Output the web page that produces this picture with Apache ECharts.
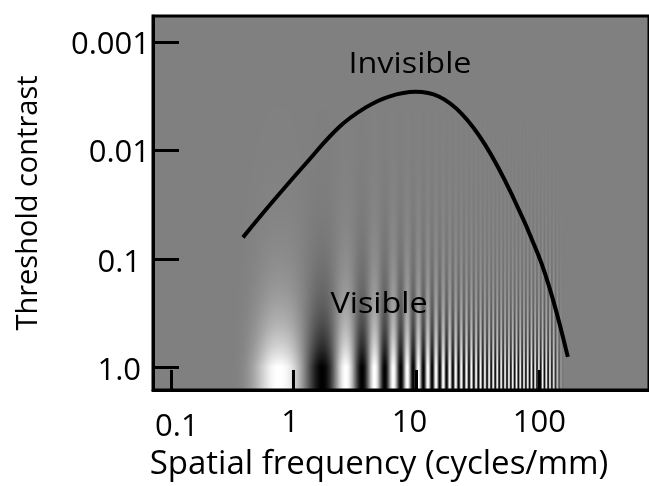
<!DOCTYPE html>
<html><head><meta charset="utf-8">
<script src="https://cdn.jsdelivr.net/npm/echarts@6/dist/echarts.min.js"></script>
<style>html,body{margin:0;padding:0;background:#fff}#c{width:649px;height:486px}</style>
</head><body><div id="c"></div>
<script>
// ---- data ----
const curveFreq = [0.386, 0.672, 1.26, 2.347, 3.864, 5.97, 9.83, 15.18, 23.33, 36.31, 59.67, 98.2, 127.6, 170.3];
const curveContrast = [0.0634, 0.02969, 0.01305, 0.006028, 0.003972, 0.00315, 0.002847, 0.00315, 0.004556, 0.00888, 0.02544, 0.0926, 0.2289, 0.81];
const xTickValues = [0.1, 1, 10, 100];
const xTickLabels = ['0.1', '1', '10', '100'];
const yTickValues = [0.001, 0.01, 0.1, 1];
const yTickLabels = ['0.001', '0.01', '0.1', '1.0'];
const xRange = [0.0715, 780];
const yRange = [0.000566, 1.64];
const annotationTexts = ['Invisible', 'Visible'];
const annotationFreq = [8.84, 4.95];
const annotationContrast = [0.00159, 0.2626];
// grating (Campbell-Robson stimulus) parameters
const gratingFirstBrightFreq = 0.76;
const gratingCyclesPerPxPerUnit = 1 / 101;
const gratingMaxCyclesPerPx = 0.27;
const gratingLeftFade = [0.3, 0.72];
const gratingRightFade = [120, 165];

const FONT = '"Open Sans", "Noto Sans", sans-serif';
const chart = echarts.init(document.getElementById('c'), null, {renderer: 'canvas'});

function idxOf(arr, v) {
  let best = 0, d = Infinity;
  arr.forEach((t, i) => { const e = Math.abs(Math.log10(t) - Math.log10(v)); if (e < d) { d = e; best = i; } });
  return best;
}
const xRich = ['a', 'b', 'c', 'd'];
const yRich = ['p', 'p', 'q', 'q'];
const LBL = 31;

chart.setOption({
  animation: false,
  grid: {left: 153, top: 16, width: 498, height: 379, show: true, borderColor: '#000', borderWidth: 3, backgroundColor: 'transparent'},
  xAxis: {
    type: 'log', logBase: 10, min: xRange[0], max: xRange[1],
    name: 'Spatial frequency (cycles/mm)', nameLocation: 'middle', nameGap: 58,
    nameTextStyle: {fontFamily: FONT, fontSize: 33, color: '#000', padding: [0, 44, 0, 0]},
    axisLine: {show: true, lineStyle: {color: '#000', width: 3}},
    axisTick: {show: true, inside: true, length: 20, lineStyle: {color: '#000', width: 3}, customValues: xTickValues},
    minorTick: {show: false}, splitLine: {show: false},
    axisLabel: {
      customValues: xTickValues, margin: 18,
      formatter: v => { const i = idxOf(xTickValues, v); return '{' + xRich[i] + '|' + xTickLabels[i] + '}'; },
      rich: {
        a: {fontFamily: FONT, fontSize: LBL, color: '#000', padding: [4, 0, 0, 12]},
        b: {fontFamily: FONT, fontSize: LBL, color: '#000', padding: [0, 7, 0, 0]},
        c: {fontFamily: FONT, fontSize: LBL, color: '#000', padding: [0, 14, 0, 0]},
        d: {fontFamily: FONT, fontSize: LBL, color: '#000', padding: [0, 0, 0, 0]}
      }
    }
  },
  yAxis: {
    type: 'log', logBase: 10, inverse: true, min: yRange[0], max: yRange[1],
    name: 'Threshold contrast', nameLocation: 'middle', nameGap: 110,
    nameTextStyle: {fontFamily: FONT, fontSize: 29, color: '#000'},
    axisLine: {show: true, lineStyle: {color: '#000', width: 3}},
    axisTick: {show: true, inside: true, length: 26, lineStyle: {color: '#000', width: 3}, customValues: yTickValues},
    minorTick: {show: false}, splitLine: {show: false},
    axisLabel: {
      customValues: yTickValues, margin: 3,
      formatter: v => { const i = idxOf(yTickValues, v); return '{' + yRich[i] + '|' + yTickLabels[i] + '}'; },
      rich: {
        p: {fontFamily: FONT, fontSize: LBL, color: '#000', padding: [4, 0, 0, 0]},
        q: {fontFamily: FONT, fontSize: LBL, color: '#000', padding: [8, 9, 0, 0]}
      }
    }
  },
  series: [{
    type: 'line', z: 5, showSymbol: false, smooth: 0.4,
    data: curveFreq.map((f, i) => [f, curveContrast[i]]),
    lineStyle: {color: '#000', width: 4}
  }]
});

function smoothstep(v, a, b) { const t = Math.min(1, Math.max(0, (v - a) / (b - a))); return t * t * (3 - 2 * t); }

function buildGrating() {
  const x0 = chart.convertToPixel({xAxisIndex: 0}, xRange[0]);
  const x1 = chart.convertToPixel({xAxisIndex: 0}, xRange[1]);
  const yTop = chart.convertToPixel({yAxisIndex: 0}, yRange[0]);
  const yBot = chart.convertToPixel({yAxisIndex: 0}, yRange[1]);
  const W = Math.round(x1 - x0), H = Math.round(yBot - yTop);
  const cv = document.createElement('canvas'); cv.width = W; cv.height = H;
  const ctx = cv.getContext('2d');
  const img = ctx.createImageData(W, H);
  const SS = 4, N = W * SS;
  const phase = new Float64Array(N), env = new Float64Array(N);
  let acc = 0, refIdx = 0, best = Infinity;
  const lf0 = Math.log10(gratingLeftFade[0]), lf1 = Math.log10(gratingLeftFade[1]);
  const rf0 = Math.log10(gratingRightFade[0]), rf1 = Math.log10(gratingRightFade[1]);
  for (let i = 0; i < N; i++) {
    const f = chart.convertFromPixel({xAxisIndex: 0}, x0 + (i + 0.5) / SS);
    const g = gratingMaxCyclesPerPx * Math.tanh(f * gratingCyclesPerPxPerUnit / gratingMaxCyclesPerPx);
    acc += g / SS; phase[i] = acc;
    const lf = Math.log10(f);
    env[i] = smoothstep(lf, lf0, lf1) * (1 - smoothstep(lf, rf0, rf1));
    const d = Math.abs(lf - Math.log10(gratingFirstBrightFreq));
    if (d < best) { best = d; refIdx = i; }
  }
  const ref = phase[refIdx];
  const col = new Float64Array(W);
  for (let c = 0; c < W; c++) {
    let s = 0;
    for (let j = 0; j < SS; j++) { const i = c * SS + j; s += env[i] * Math.cos(2 * Math.PI * (phase[i] - ref)); }
    col[c] = s / SS;
  }
  for (let r = 0; r < H; r++) {
    const v = chart.convertFromPixel({yAxisIndex: 0}, yTop + r + 0.5);
    const k = Math.min(1, v);
    for (let c = 0; c < W; c++) {
      const L = Math.max(0, Math.min(255, Math.round(128 + 127 * k * col[c])));
      const o = (r * W + c) * 4;
      img.data[o] = L; img.data[o + 1] = L; img.data[o + 2] = L; img.data[o + 3] = 255;
    }
  }
  ctx.putImageData(img, 0, 0);
  return {cv, x0, yTop, W, H};
}

const gr = buildGrating();
const gElems = [{type: 'image', z: -10, silent: true, x: gr.x0, y: gr.yTop, style: {image: gr.cv, width: gr.W, height: gr.H}}];
annotationTexts.forEach((t, i) => {
  const p = chart.convertToPixel({xAxisIndex: 0, yAxisIndex: 0}, [annotationFreq[i], annotationContrast[i]]);
  gElems.push({type: 'text', z: 10, silent: true, x: p[0], y: p[1], scaleX: 1.08,
    style: {text: t, font: '30px ' + FONT, fill: '#000', align: 'center', verticalAlign: 'middle'}});
});
chart.setOption({graphic: gElems});
</script>
</body></html>
